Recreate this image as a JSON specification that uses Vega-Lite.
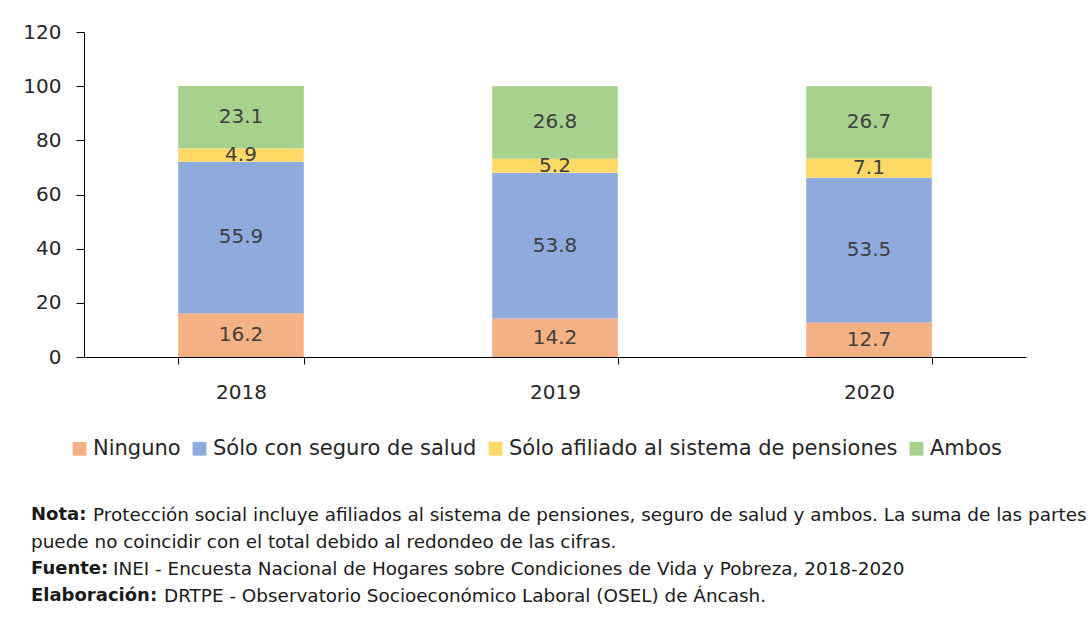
{
  "$schema": "https://vega.github.io/schema/vega-lite/v6.json",
  "padding": {"left": 22, "top": 22, "right": 0, "bottom": 0},
  "background": "white",
  "config": {
    "view": {"stroke": null},
    "font": "DejaVu Sans",
    "text": {"font": "DejaVu Sans"}
  },
  "datasets": {
    "bars": [
      {"year": "2018", "k": 1, "serie": "Ninguno", "value": 16.2},
      {"year": "2018", "k": 2, "serie": "Sólo con seguro de salud", "value": 55.9},
      {"year": "2018", "k": 3, "serie": "Sólo afiliado al sistema de pensiones", "value": 4.9},
      {"year": "2018", "k": 4, "serie": "Ambos", "value": 23.1},
      {"year": "2019", "k": 1, "serie": "Ninguno", "value": 14.2},
      {"year": "2019", "k": 2, "serie": "Sólo con seguro de salud", "value": 53.8},
      {"year": "2019", "k": 3, "serie": "Sólo afiliado al sistema de pensiones", "value": 5.2},
      {"year": "2019", "k": 4, "serie": "Ambos", "value": 26.8},
      {"year": "2020", "k": 1, "serie": "Ninguno", "value": 12.7},
      {"year": "2020", "k": 2, "serie": "Sólo con seguro de salud", "value": 53.5},
      {"year": "2020", "k": 3, "serie": "Sólo afiliado al sistema de pensiones", "value": 7.1},
      {"year": "2020", "k": 4, "serie": "Ambos", "value": 26.7}
    ],
    "notes": [
      {"line": 1, "bold": "Nota:", "text": "Protección social incluye afiliados al sistema de pensiones, seguro de salud y ambos. La suma de las partes"},
      {"line": 2, "bold": "", "text": "puede no coincidir con el total debido al redondeo de las cifras."},
      {"line": 3, "bold": "Fuente:", "text": "INEI - Encuesta Nacional de Hogares sobre Condiciones de Vida y Pobreza, 2018-2020"},
      {"line": 4, "bold": "Elaboración:", "text": "DRTPE - Observatorio Socioeconómico Laboral (OSEL) de Áncash."}
    ]
  },
  "vconcat": [
    {
      "width": 942,
      "height": 325,
      "data": {"name": "bars"},
      "transform": [
        {"stack": "value", "groupby": ["year"], "sort": [{"field": "k", "order": "ascending"}], "as": ["v0", "v1"]},
        {"calculate": "(datum.v0 + datum.v1) / 2", "as": "mid"}
      ],
      "encoding": {
        "x": {
          "field": "year", "type": "nominal",
          "scale": {"paddingInner": 0.6, "paddingOuter": 0.3},
          "axis": {
            "title": null, "labelAngle": 0, "tickBand": "extent",
            "domainColor": "#000", "tickColor": "#000", "tickSize": 7,
            "labelFontSize": 20, "labelPadding": 18, "labelColor": "#262626",
            "labelFont": "DejaVu Sans"
          }
        }
      },
      "layer": [
        {
          "mark": {"type": "bar"},
          "encoding": {
            "y": {
              "field": "v0", "type": "quantitative",
              "scale": {"domain": [0, 120], "nice": false},
              "axis": {
                "title": null, "values": [0, 20, 40, 60, 80, 100, 120], "grid": false,
                "domainColor": "#000", "tickColor": "#000", "tickSize": 8,
                "labelFontSize": 20, "labelPadding": 15, "labelColor": "#262626",
                "labelFont": "DejaVu Sans"
              }
            },
            "y2": {"field": "v1"},
            "color": {
              "field": "serie", "type": "nominal",
              "scale": {
                "domain": ["Ninguno", "Sólo con seguro de salud", "Sólo afiliado al sistema de pensiones", "Ambos"],
                "range": ["#F4B183", "#8FAADC", "#FFD966", "#A9D18E"]
              },
              "legend": {
                "title": null, "orient": "none", "direction": "horizontal", "columns": 4,
                "legendX": -15, "legendY": 406,
                "symbolType": "square", "symbolSize": 190, "symbolStrokeWidth": 0,
                "labelFontSize": 21, "labelFont": "DejaVu Sans", "labelColor": "#262626",
                "labelOffset": 3, "columnPadding": 8, "labelLimit": 600
              }
            }
          }
        },
        {
          "mark": {"type": "text", "fontSize": 20, "color": "#404040", "baseline": "middle"},
          "encoding": {
            "y": {"field": "mid", "type": "quantitative"},
            "text": {"field": "value", "type": "quantitative", "format": ".1f"}
          }
        }
      ]
    },
    {
      "width": 1000,
      "height": {"step": 26.8},
      "data": {"name": "notes"},
      "encoding": {
        "y": {"field": "line", "type": "ordinal", "axis": null},
        "x": {"datum": 0, "type": "quantitative", "scale": {"domain": [0, 1]}, "axis": null}
      },
      "layer": [
        {
          "mark": {"type": "text", "align": "left", "baseline": "middle", "fontSize": 18, "fontWeight": "bold", "color": "#1a1a1a", "dx": -53},
          "encoding": {"text": {"field": "bold"}}
        },
        {
          "transform": [{"filter": "datum.line == 1"}],
          "mark": {"type": "text", "align": "left", "baseline": "middle", "fontSize": 18.4, "color": "#1a1a1a", "dx": 9},
          "encoding": {"text": {"field": "text"}}
        },
        {
          "transform": [{"filter": "datum.line == 2"}],
          "mark": {"type": "text", "align": "left", "baseline": "middle", "fontSize": 18.4, "color": "#1a1a1a", "dx": -53},
          "encoding": {"text": {"field": "text"}}
        },
        {
          "transform": [{"filter": "datum.line == 3"}],
          "mark": {"type": "text", "align": "left", "baseline": "middle", "fontSize": 18.4, "color": "#1a1a1a", "dx": 29},
          "encoding": {"text": {"field": "text"}}
        },
        {
          "transform": [{"filter": "datum.line == 4"}],
          "mark": {"type": "text", "align": "left", "baseline": "middle", "fontSize": 18.4, "color": "#1a1a1a", "dx": 80},
          "encoding": {"text": {"field": "text"}}
        }
      ]
    }
  ],
  "spacing": 100
}
